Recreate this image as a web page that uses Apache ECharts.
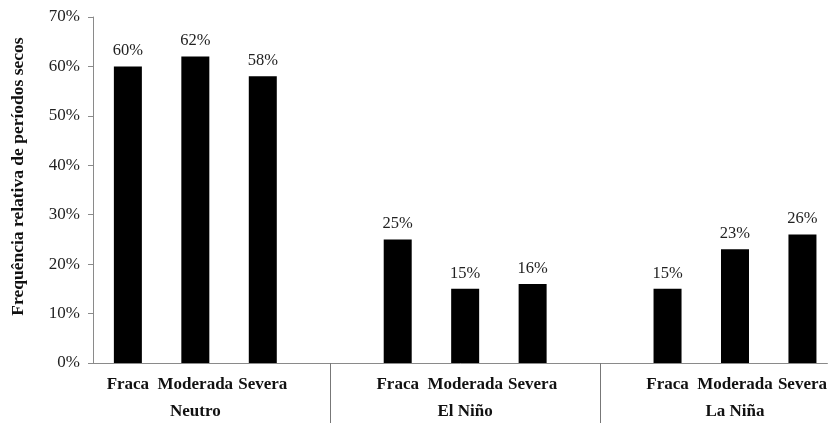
<!DOCTYPE html>
<html>
<head>
<meta charset="utf-8">
<script src="https://cdn.jsdelivr.net/npm/echarts@6/dist/echarts.min.js"></script>
<style>html,body{margin:0;padding:0;background:#fff}#c{width:830px;height:423px}</style>
</head>
<body>
<div id="c"></div>
<script>
const groups = ['Neutro', 'El Niño', 'La Niña'];
const intensities = ['Fraca', 'Moderada', 'Severa'];
const neutroValues = [60, 62, 58];
const elNinoValues = [25, 15, 16];
const laNinaValues = [15, 23, 26];
const yTickLabels = ['0%', '10%', '20%', '30%', '40%', '50%', '60%', '70%'];

const groupValues = [neutroValues, elNinoValues, laNinaValues];
// slot layout: 3 bars per group, one empty slot between groups
const positions = [];
const data = [];
const labelMap = {};
groupValues.forEach((vals, g) => {
  vals.forEach((v, i) => {
    const x = g * 4 + i;
    positions.push(x);
    labelMap[x] = intensities[i];
    data.push([x, v]);
  });
});
const groupCenters = groups.map((_, g) => g * 4 + 1);
const groupMap = {};
groupCenters.forEach((x, g) => groupMap[x] = groups[g]);
const separators = [3, 7];

const serif = '"Liberation Serif", "DejaVu Serif", serif';
const chart = echarts.init(document.getElementById('c'));
const xMin = -0.517, xMax = 10.37;
chart.setOption({
  animation: false,
  backgroundColor: '#fff',
  grid: { left: 93, right: 0, top: 17, bottom: 60 },
  xAxis: [{
    type: 'value', min: xMin, max: xMax,
    splitLine: { show: false },
    axisLine: { show: true, onZero: false, lineStyle: { color: '#8a8a8a', width: 1 } },
    axisTick: { show: true, customValues: separators, length: 62, lineStyle: { color: '#777' } },
    axisLabel: {
      customValues: positions, margin: 13,
      formatter: v => labelMap[Math.round(v)] || '',
      fontFamily: serif, fontWeight: 'bold', fontSize: 17, color: '#111'
    }
  }, {
    type: 'value', min: xMin, max: xMax, position: 'bottom',
    splitLine: { show: false },
    axisLine: { show: false, onZero: false }, axisTick: { show: false },
    axisLabel: {
      customValues: groupCenters, margin: 40,
      formatter: v => groupMap[Math.round(v)] || '',
      fontFamily: serif, fontWeight: 'bold', fontSize: 17, color: '#111'
    }
  }],
  yAxis: {
    type: 'value', min: 0, max: 70, interval: 10,
    name: 'Frequência relativa de períodos secos',
    nameLocation: 'middle', nameGap: 66, nameRotate: 90,
    nameTextStyle: { fontFamily: serif, fontWeight: 'bold', fontSize: 17.5, color: '#111', padding: [0, 0, 0, 27] },
    splitLine: { show: false },
    axisLine: { show: true, onZero: false, lineStyle: { color: '#8a8a8a' } },
    axisTick: { show: true, length: 5, lineStyle: { color: '#8a8a8a' } },
    axisLabel: {
      margin: 13,
      formatter: v => yTickLabels[Math.round(v / 10)],
      fontFamily: serif, fontSize: 17, color: '#222'
    }
  },
  series: [{
    type: 'bar', xAxisIndex: 0, data: data, barWidth: 28,
    itemStyle: { color: '#000' },
    label: {
      show: true, position: 'top', distance: 7,
      formatter: p => p.value[1] + '%',
      fontFamily: serif, fontSize: 16.5, color: '#222'
    }
  }]
});
</script>
</body>
</html>
